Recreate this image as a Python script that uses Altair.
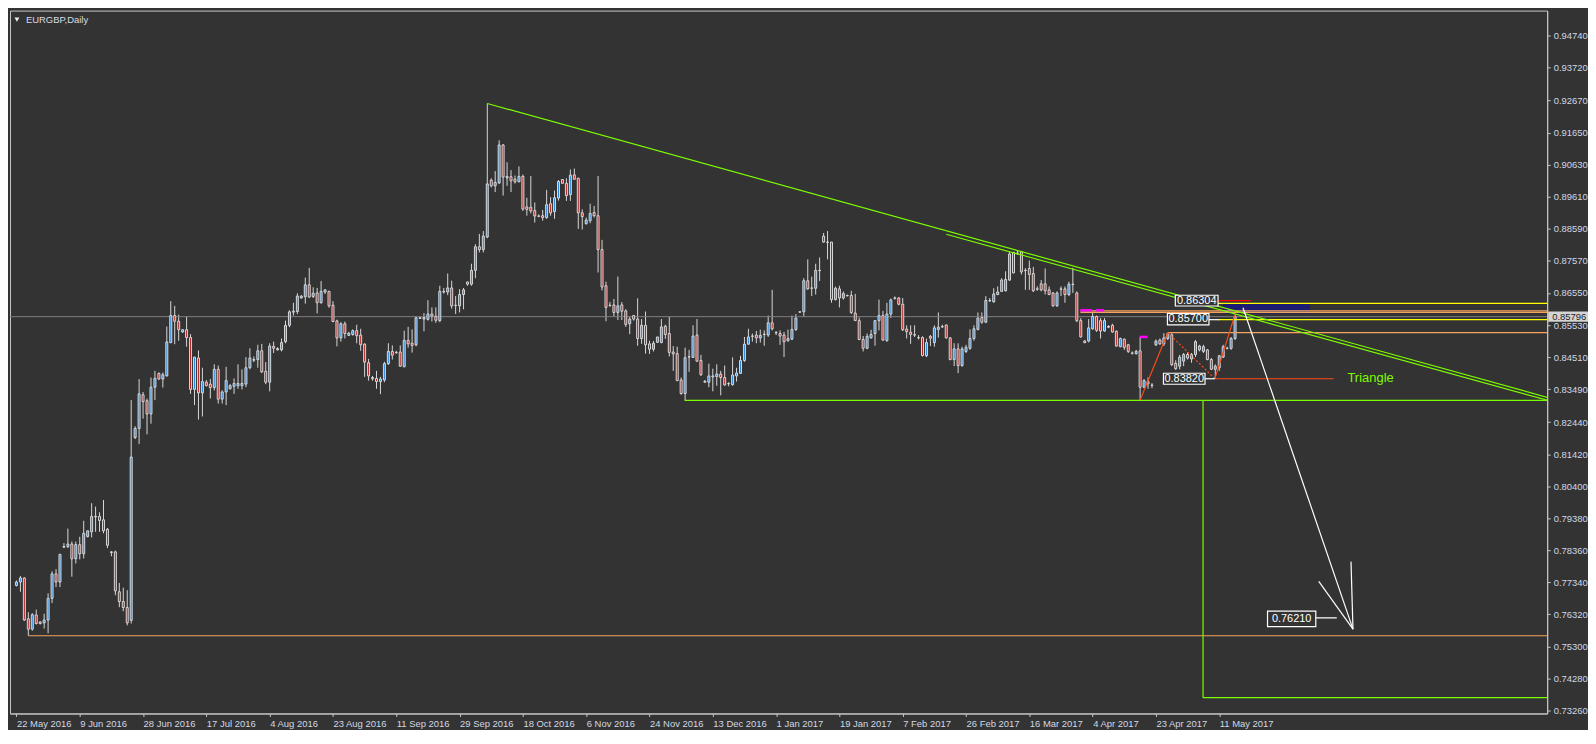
import json
import altair as alt
import pandas as pd

title_text = "EURGBP,Daily"

opens = [0.7724,0.7735,0.7748,0.7618,0.7585,0.7630,0.7608,0.7605,0.7614,0.7683,
0.7761,0.7735,0.7846,0.7848,0.7856,0.7809,0.7854,0.7825,0.7880,0.7895,
0.7942,0.7944,0.7933,0.7903,0.7831,0.7831,0.7704,0.7673,0.7654,0.7613,
0.8195,0.8224,0.8331,0.8312,0.8270,0.8355,0.8399,0.8381,0.8391,0.8497,
0.8583,0.8565,0.8531,0.8538,0.8513,0.8348,0.8448,0.8337,0.8371,0.8365,
0.8354,0.8412,0.8317,0.8340,0.8350,0.8358,0.8360,0.8360,0.8365,0.8417,
0.8441,0.8443,0.8471,0.8406,0.8371,0.8485,0.8474,0.8474,0.8500,0.8552,
0.8594,0.8596,0.8639,0.8643,0.8681,0.8644,0.8655,0.8624,0.8658,0.8660,
0.8616,0.8566,0.8512,0.8557,0.8520,0.8523,0.8535,0.8521,0.8492,0.8433,
0.8386,0.8383,0.8373,0.8378,0.8430,0.8469,0.8466,0.8467,0.8420,0.8504,
0.8495,0.8490,0.8574,0.8572,0.8571,0.8588,0.8581,0.8567,0.8658,0.8658,
0.8671,0.8616,0.8614,0.8650,0.8690,0.8683,0.8727,0.8802,0.8793,0.8833,
0.9014,0.8996,0.9005,0.9126,0.9021,0.9025,0.9017,0.9009,0.9026,0.8929,
0.8928,0.8917,0.8900,0.8901,0.8895,0.8939,0.8914,0.8957,0.9016,0.9004,
0.8968,0.9031,0.9020,0.8910,0.8876,0.8885,0.8911,0.8901,0.8793,0.8678,
0.8616,0.8617,0.8593,0.8617,0.8598,0.8557,0.8583,0.8572,0.8510,0.8552,
0.8493,0.8476,0.8498,0.8497,0.8549,0.8526,0.8467,0.8462,0.8378,0.8335,
0.8452,0.8450,0.8521,0.8440,0.8374,0.8371,0.8388,0.8389,0.8397,0.8386,
0.8366,0.8363,0.8391,0.8399,0.8440,0.8492,0.8517,0.8521,0.8512,0.8523,
0.8521,0.8560,0.8528,0.8526,0.8521,0.8503,0.8508,0.8539,0.8594,0.8595,
0.8694,0.8670,0.8670,0.8726,0.8836,0.8816,0.8817,0.8634,0.8668,0.8639,
0.8646,0.8647,0.8591,0.8567,0.8507,0.8479,0.8512,0.8526,0.8567,0.8583,
0.8503,0.8588,0.8638,0.8639,0.8619,0.8540,0.8530,0.8521,0.8512,0.8513,
0.8455,0.8517,0.8497,0.8539,0.8547,0.8553,0.8512,0.8443,0.8477,0.8424,
0.8469,0.8479,0.8510,0.8539,0.8577,0.8562,0.8630,0.8627,0.8650,0.8660,
0.8662,0.8696,0.8784,0.8781,0.8786,0.8726,0.8733,0.8717,0.8667,0.8684,
0.8684,0.8665,0.8655,0.8614,0.8667,0.8668,0.8650,0.8682,0.8655,0.8567,
0.8502,0.8502,0.8541,0.8580,0.8567,0.8534,0.8546,0.8552,0.8533,0.8484,
0.8508,0.8490,0.8464,0.8462,0.8471,0.8355,0.8373,0.8361,0.8490,0.8505,
0.8493,0.8510,0.8522,0.8431,0.8422,0.8438,0.8459,0.8445,0.8459,0.8474,
0.8469,0.8474,0.8443,0.8412,0.8417,0.8451,0.8478,0.8479,0.8510]

highs = [0.7740,0.7754,0.7750,0.7639,0.7636,0.7647,0.7610,0.7634,0.7699,0.7769,
0.7776,0.7825,0.7859,0.7905,0.7864,0.7864,0.7879,0.7930,0.7898,0.7986,
0.7975,0.7957,0.7996,0.7907,0.7833,0.7835,0.7732,0.7717,0.7709,0.8314,
0.8231,0.8381,0.8340,0.8319,0.8386,0.8407,0.8402,0.8402,0.8548,0.8629,
0.8614,0.8586,0.8538,0.8580,0.8524,0.8451,0.8472,0.8417,0.8378,0.8381,
0.8428,0.8424,0.8345,0.8420,0.8365,0.8383,0.8428,0.8412,0.8451,0.8479,
0.8453,0.8490,0.8493,0.8435,0.8495,0.8500,0.8482,0.8510,0.8567,0.8600,
0.8624,0.8654,0.8648,0.8704,0.8735,0.8673,0.8671,0.8693,0.8665,0.8662,
0.8629,0.8570,0.8562,0.8564,0.8531,0.8539,0.8554,0.8541,0.8495,0.8445,
0.8391,0.8407,0.8388,0.8436,0.8495,0.8488,0.8471,0.8488,0.8535,0.8547,
0.8539,0.8580,0.8580,0.8591,0.8632,0.8609,0.8609,0.8678,0.8671,0.8717,
0.8694,0.8645,0.8667,0.8671,0.8691,0.8748,0.8810,0.8843,0.8852,0.9258,
0.9020,0.9043,0.9141,0.9129,0.9071,0.9046,0.9029,0.9058,0.9032,0.8958,
0.9027,0.8943,0.8905,0.8919,0.8983,0.8960,0.8981,0.9014,0.9017,0.9020,
0.9048,0.9051,0.9022,0.8921,0.8895,0.8939,0.8932,0.9027,0.8824,0.8691,
0.8626,0.8636,0.8707,0.8626,0.8603,0.8580,0.8585,0.8638,0.8572,0.8596,
0.8503,0.8502,0.8515,0.8572,0.8554,0.8580,0.8486,0.8484,0.8386,0.8481,
0.8474,0.8552,0.8572,0.8458,0.8378,0.8430,0.8414,0.8428,0.8407,0.8424,
0.8371,0.8450,0.8417,0.8455,0.8515,0.8541,0.8526,0.8534,0.8538,0.8536,
0.8583,0.8665,0.8534,0.8536,0.8531,0.8538,0.8583,0.8588,0.8597,0.8702,
0.8762,0.8707,0.8748,0.8768,0.8846,0.8852,0.8817,0.8675,0.8678,0.8660,
0.8650,0.8662,0.8652,0.8577,0.8518,0.8526,0.8538,0.8569,0.8634,0.8598,
0.8624,0.8637,0.8644,0.8642,0.8639,0.8552,0.8552,0.8552,0.8521,0.8517,
0.8510,0.8521,0.8552,0.8593,0.8554,0.8554,0.8515,0.8495,0.8495,0.8484,
0.8490,0.8539,0.8552,0.8593,0.8593,0.8645,0.8639,0.8670,0.8676,0.8702,
0.8724,0.8786,0.8786,0.8789,0.8789,0.8734,0.8758,0.8738,0.8676,0.8696,
0.8733,0.8676,0.8658,0.8660,0.8676,0.8676,0.8691,0.8735,0.8660,0.8575,
0.8505,0.8572,0.8593,0.8583,0.8575,0.8575,0.8552,0.8557,0.8536,0.8513,
0.8510,0.8493,0.8469,0.8474,0.8515,0.8381,0.8386,0.8368,0.8507,0.8510,
0.8527,0.8529,0.8527,0.8441,0.8458,0.8464,0.8466,0.8464,0.8505,0.8490,
0.8490,0.8476,0.8448,0.8428,0.8458,0.8490,0.8484,0.8515,0.8587]

lows = [0.7721,0.7704,0.7611,0.7564,0.7580,0.7600,0.7600,0.7587,0.7572,0.7668,
0.7719,0.7719,0.7843,0.7843,0.7752,0.7794,0.7807,0.7810,0.7877,0.7877,
0.7895,0.7895,0.7890,0.7843,0.7817,0.7693,0.7655,0.7642,0.7597,0.7603,
0.8190,0.8174,0.8255,0.8205,0.8239,0.8314,0.8379,0.8354,0.8389,0.8495,
0.8492,0.8503,0.8528,0.8484,0.8334,0.8298,0.8252,0.8262,0.8358,0.8319,
0.8345,0.8303,0.8303,0.8298,0.8348,0.8334,0.8350,0.8348,0.8355,0.8412,
0.8435,0.8417,0.8400,0.8365,0.8342,0.8464,0.8472,0.8469,0.8495,0.8546,
0.8583,0.8588,0.8637,0.8621,0.8639,0.8639,0.8590,0.8621,0.8652,0.8608,
0.8562,0.8485,0.8500,0.8510,0.8518,0.8519,0.8495,0.8471,0.8388,0.8376,
0.8376,0.8350,0.8333,0.8371,0.8426,0.8443,0.8461,0.8420,0.8419,0.8481,
0.8465,0.8485,0.8572,0.8533,0.8567,0.8564,0.8560,0.8562,0.8653,0.8648,
0.8605,0.8588,0.8593,0.8603,0.8678,0.8678,0.8702,0.8784,0.8784,0.8829,
0.8991,0.8976,0.9002,0.8965,0.8996,0.8976,0.9003,0.9007,0.8916,0.8901,
0.8908,0.8879,0.8896,0.8885,0.8891,0.8901,0.8891,0.8949,0.9002,0.8948,
0.8948,0.9015,0.8859,0.8857,0.8872,0.8877,0.8895,0.8720,0.8663,0.8565,
0.8611,0.8581,0.8569,0.8569,0.8547,0.8524,0.8567,0.8487,0.8493,0.8462,
0.8461,0.8469,0.8497,0.8495,0.8509,0.8453,0.8407,0.8376,0.8331,0.8313,
0.8404,0.8448,0.8436,0.8391,0.8369,0.8355,0.8342,0.8360,0.8329,0.8360,
0.8358,0.8360,0.8373,0.8397,0.8436,0.8490,0.8500,0.8495,0.8497,0.8487,
0.8515,0.8536,0.8521,0.8490,0.8451,0.8500,0.8505,0.8534,0.8592,0.8580,
0.8665,0.8645,0.8650,0.8693,0.8815,0.8762,0.8624,0.8631,0.8609,0.8634,
0.8644,0.8588,0.8567,0.8505,0.8469,0.8476,0.8510,0.8487,0.8536,0.8503,
0.8500,0.8575,0.8634,0.8616,0.8534,0.8510,0.8493,0.8515,0.8507,0.8453,
0.8451,0.8486,0.8484,0.8513,0.8544,0.8510,0.8441,0.8422,0.8400,0.8420,
0.8464,0.8474,0.8503,0.8536,0.8557,0.8559,0.8626,0.8624,0.8648,0.8658,
0.8660,0.8693,0.8717,0.8776,0.8714,0.8665,0.8665,0.8658,0.8662,0.8660,
0.8650,0.8648,0.8611,0.8611,0.8645,0.8624,0.8645,0.8655,0.8562,0.8513,
0.8495,0.8498,0.8538,0.8531,0.8510,0.8531,0.8543,0.8528,0.8484,0.8482,
0.8474,0.8464,0.8459,0.8459,0.8314,0.8352,0.8350,0.8352,0.8486,0.8490,
0.8486,0.8505,0.8422,0.8410,0.8412,0.8422,0.8443,0.8433,0.8451,0.8469,
0.8464,0.8441,0.8410,0.8382,0.8407,0.8448,0.8476,0.8474,0.8505]

closes = [0.7735,0.7748,0.7614,0.7585,0.7631,0.7603,0.7603,0.7614,0.7683,0.7761,
0.7735,0.7823,0.7848,0.7856,0.7809,0.7854,0.7825,0.7890,0.7898,0.7944,
0.7944,0.7931,0.7898,0.7852,0.7829,0.7707,0.7673,0.7654,0.7605,0.8133,
0.8224,0.8334,0.8309,0.8270,0.8355,0.8383,0.8381,0.8395,0.8499,0.8583,
0.8565,0.8538,0.8538,0.8513,0.8348,0.8451,0.8337,0.8373,0.8360,0.8354,
0.8412,0.8317,0.8340,0.8376,0.8360,0.8367,0.8367,0.8367,0.8417,0.8448,
0.8443,0.8471,0.8404,0.8371,0.8486,0.8479,0.8478,0.8497,0.8552,0.8595,
0.8597,0.8645,0.8645,0.8681,0.8642,0.8654,0.8624,0.8660,0.8665,0.8614,
0.8564,0.8512,0.8557,0.8526,0.8527,0.8535,0.8519,0.8490,0.8435,0.8391,
0.8382,0.8373,0.8381,0.8430,0.8469,0.8457,0.8465,0.8422,0.8504,0.8493,
0.8488,0.8576,0.8576,0.8577,0.8588,0.8581,0.8568,0.8660,0.8660,0.8671,
0.8614,0.8615,0.8650,0.8665,0.8683,0.8727,0.8802,0.8793,0.8836,0.9002,
0.8996,0.9007,0.9126,0.9024,0.9026,0.9012,0.9009,0.9026,0.8922,0.8921,
0.8916,0.8900,0.8899,0.8895,0.8936,0.8910,0.8958,0.9010,0.9004,0.8965,
0.9030,0.9017,0.8910,0.8898,0.8887,0.8908,0.8901,0.8793,0.8674,0.8609,
0.8615,0.8593,0.8614,0.8597,0.8555,0.8572,0.8572,0.8510,0.8552,0.8490,
0.8476,0.8495,0.8515,0.8547,0.8523,0.8466,0.8461,0.8376,0.8335,0.8449,
0.8451,0.8518,0.8438,0.8395,0.8371,0.8391,0.8391,0.8397,0.8386,0.8362,
0.8367,0.8394,0.8400,0.8440,0.8492,0.8515,0.8518,0.8512,0.8520,0.8524,
0.8560,0.8541,0.8529,0.8518,0.8500,0.8510,0.8539,0.8575,0.8595,0.8694,
0.8668,0.8671,0.8727,0.8727,0.8817,0.8817,0.8634,0.8670,0.8639,0.8653,
0.8647,0.8593,0.8567,0.8507,0.8479,0.8517,0.8523,0.8567,0.8583,0.8505,
0.8588,0.8633,0.8639,0.8619,0.8538,0.8532,0.8523,0.8522,0.8513,0.8456,
0.8497,0.8511,0.8544,0.8546,0.8548,0.8512,0.8443,0.8477,0.8424,0.8477,
0.8482,0.8510,0.8541,0.8575,0.8562,0.8631,0.8631,0.8652,0.8658,0.8696,
0.8698,0.8779,0.8719,0.8782,0.8722,0.8727,0.8714,0.8662,0.8668,0.8665,
0.8662,0.8650,0.8614,0.8655,0.8668,0.8650,0.8683,0.8683,0.8567,0.8515,
0.8497,0.8544,0.8580,0.8536,0.8534,0.8567,0.8549,0.8531,0.8486,0.8510,
0.8482,0.8469,0.8463,0.8469,0.8355,0.8376,0.8366,0.8362,0.8502,0.8493,
0.8512,0.8526,0.8427,0.8414,0.8451,0.8459,0.8448,0.8459,0.8500,0.8486,
0.8484,0.8443,0.8412,0.8422,0.8455,0.8484,0.8479,0.8510,0.8580]

x_tick_bars = [1, 17, 33, 49, 65, 81, 97, 113, 129, 145, 161, 177, 193, 209, 225, 241, 257, 273, 289, 305]
x_tick_labels = ["22 May 2016", "9 Jun 2016", "28 Jun 2016", "17 Jul 2016", "4 Aug 2016", "23 Aug 2016",
                 "11 Sep 2016", "29 Sep 2016", "18 Oct 2016", "6 Nov 2016", "24 Nov 2016", "13 Dec 2016",
                 "1 Jan 2017", "19 Jan 2017", "7 Feb 2017", "26 Feb 2017", "16 Mar 2017", "4 Apr 2017",
                 "23 Apr 2017", "11 May 2017"]
y_ticks = [0.94740, 0.93720, 0.92670, 0.91650, 0.90630, 0.89610, 0.88590, 0.87570, 0.86550, 0.85530,
           0.84510, 0.83490, 0.82440, 0.81420, 0.80400, 0.79380, 0.78360, 0.77340, 0.76320, 0.75300,
           0.74280, 0.73260]
bid_price = 0.85796
bid_label = "0.85796"

# drawn objects (bar index, price); 400 = runs off the right edge
lime_x1 = [120.0, 236.0, 169.9, 300.9, 300.9]
lime_y1 = [0.9258, 0.8842, 0.8313, 0.8313, 0.7367]
lime_x2 = [388.4, 388.4, 400.0, 300.9, 400.0]
lime_y2 = [0.8321, 0.8312, 0.8313, 0.7367, 0.7367]

sandy_x1 = [4.0, 269.9, 269.9, 292.0]
sandy_y1 = [0.7564, 0.8598, 0.8593, 0.8529]
sandy_x2 = [400.0, 400.0, 400.0, 400.0]
sandy_y2 = [0.7564, 0.8598, 0.8593, 0.8529]

yellow_x1 = [304.7, 304.7]
yellow_x2 = [400.0, 400.0]
yellow_y = [0.8622, 0.8570]

red_x1, red_x2, red_y = [304.7], [312.9], [0.86304]

zig_x1 = [285.0, 303.9, 303.9]
zig_y1 = [0.8314, 0.8382, 0.8382]
zig_x2 = [292.0, 308.9, 333.9]
zig_y2 = [0.8529, 0.8583, 0.8382]
dot_x1, dot_y1, dot_x2, dot_y2 = [292.0], [0.8529], [303.9], [0.8382]

mag_x1 = [269.9, 273.9, 284.9]
mag_x2 = [272.9, 275.9, 286.9]
mag_y = [0.8600, 0.8600, 0.8515]

white_x1 = [311.0, 338.8, 338.8, 302.4, 301.4, 329.4]
white_y1 = [0.8608, 0.7585, 0.7585, 0.8570, 0.8382, 0.7621]
white_x2 = [338.8, 330.15, 338.3, 304.9, 303.9, 334.7]
white_y2 = [0.7585, 0.7737, 0.7800, 0.8570, 0.8382, 0.7621]

zone_x1, zone_x2, zone_y1, zone_y2 = [305.9], [327.9], [0.86198], [0.85897]

box_text = ["0.86304", "0.85700", "0.83820", "0.76210"]
box_x1 = [293.9, 291.9, 290.9, 317.2]
box_x2 = [304.7, 302.4, 301.4, 329.4]
box_y1 = [0.86477, 0.85897, 0.83995, 0.76425]
box_y2 = [0.86136, 0.85537, 0.83645, 0.75928]

tri_text, tri_x, tri_y = ["Triangle"], [337.4], [0.8383]

# ---------------------------------------------------------------
W, H = 1544, 706
BG = "#333333"
FRAME = "#C8C8C8"
LBL = "#D0D8E6"
FONT = "Liberation Sans"
CANDLE_EDGE = "#D8D8D8"
UP = "#2A86DA"
DOWN = "#B22424"

xs = alt.Scale(domain=[0.625, 0.625 + W / 4.0], nice=False, zero=False)
ys = alt.Scale(domain=[0.73167, 0.95537], nice=False, zero=False)

label_expr = json.dumps(x_tick_labels) + "[indexof(" + json.dumps(x_tick_bars) + ", datum.value)]"
x_axis = alt.Axis(values=x_tick_bars, labelExpr=label_expr, title=None, grid=False, tickSize=3,
                  tickColor=FRAME, domainColor=FRAME, labelColor=LBL, labelFont=FONT, labelFontSize=9.5,
                  labelAlign="left", labelPadding=2, labelFlush=False, labelOverlap=False, labelBound=False)
y_axis = alt.Axis(orient="right", values=y_ticks, format=".5f", title=None, grid=False, tickSize=3,
                  tickColor=FRAME, domainColor=FRAME, labelColor=LBL, labelFont=FONT, labelFontSize=9.5,
                  labelPadding=3, labelOverlap=False, labelFlush=False)


def X(f):
    return alt.X(f, type="quantitative", scale=xs, axis=x_axis)


def Y(f):
    return alt.Y(f, type="quantitative", scale=ys, axis=y_axis)


candles = pd.DataFrame({"bar": list(range(1, len(closes) + 1)), "open": opens, "high": highs,
                        "low": lows, "close": closes})
candles["dir"] = ["up" if c > o else ("down" if c < o else "flat") for o, c in zip(opens, closes)]


def segs(x1, y1, x2, y2, color, width=1.0, dash=None):
    df = pd.DataFrame({"x1": x1, "y1": y1, "x2": x2, "y2": y2})
    kw = dict(color=color, strokeWidth=width, clip=True)
    if dash is not None:
        kw["strokeDash"] = dash
    return alt.Chart(df).mark_rule(**kw).encode(x=X("x1"), x2="x2", y=Y("y1"), y2="y2")


zone = alt.Chart(pd.DataFrame({"x1": zone_x1, "x2": zone_x2, "y1": zone_y1, "y2": zone_y2})).mark_rect(
    color="#1C1C72").encode(x=X("x1"), x2="x2", y=Y("y1"), y2="y2")

bid_df = pd.DataFrame({"p": [bid_price], "label": [bid_label],
                       "top": [bid_price + 0.00165], "bot": [bid_price - 0.00165]})
bid_line = alt.Chart(bid_df).mark_rule(color="#7E7E7E", strokeWidth=1).encode(y=Y("p"))

wicks = alt.Chart(candles).mark_rule(color=CANDLE_EDGE, strokeWidth=1).encode(
    x=X("bar"), y=Y("low"), y2="high")

bodies = alt.Chart(candles).mark_bar(size=2, stroke=CANDLE_EDGE, strokeWidth=1).encode(
    x=X("bar"), y=Y("open"), y2="close",
    color=alt.Color("dir:N", scale=alt.Scale(domain=["up", "down", "flat"], range=[UP, DOWN, CANDLE_EDGE]),
                    legend=None))

lime = segs(lime_x1, lime_y1, lime_x2, lime_y2, "#7CFC00", 1.2)
sandy = segs(sandy_x1, sandy_y1, sandy_x2, sandy_y2, "#F4A460", 1.2)
yellow = segs(yellow_x1, yellow_y, yellow_x2, yellow_y, "#FFFF00", 1.2)
red = segs(red_x1, red_y, red_x2, red_y, "#FF0000", 1.2)
zig = segs(zig_x1, zig_y1, zig_x2, zig_y2, "#FF4A1A", 1.2)
zig_dot = segs(dot_x1, dot_y1, dot_x2, dot_y2, "#FF4A1A", 1.2, [2, 2])
mag = segs(mag_x1, mag_y, mag_x2, mag_y, "#FF00FF", 2.5)
white = segs(white_x1, white_y1, white_x2, white_y2, "#FFFFFF", 1.2)

boxes_df = pd.DataFrame({"t": box_text, "x1": box_x1, "x2": box_x2, "y1": box_y1, "y2": box_y2})
boxes_df["xc"] = (boxes_df["x1"] + boxes_df["x2"]) / 2
boxes_df["yc"] = (boxes_df["y1"] + boxes_df["y2"]) / 2
boxes = alt.Chart(boxes_df).mark_rect(fill=BG, stroke="#FFFFFF", strokeWidth=1.2).encode(
    x=X("x1"), x2="x2", y=Y("y1"), y2="y2")
box_txt = alt.Chart(boxes_df).mark_text(color="#FFFFFF", font=FONT, fontSize=11, align="center",
                                         baseline="middle").encode(x=X("xc"), y=Y("yc"), text="t:N")

tri_lbl = alt.Chart(pd.DataFrame({"t": tri_text, "x": tri_x, "y": tri_y})).mark_text(
    color="#7CFC00", font=FONT, fontSize=13, align="left", baseline="middle").encode(
    x=X("x"), y=Y("y"), text="t:N")

bid_box = alt.Chart(bid_df).mark_rect(color="#D4D4D4").encode(
    x=alt.value(W + 1), x2=alt.value(W + 41), y=Y("top"), y2="bot")
bid_txt = alt.Chart(bid_df).mark_text(color="#1E1E1E", font=FONT, fontSize=9.5, align="left",
                                      baseline="middle").encode(x=alt.value(W + 5), y=Y("p"), text="label:N")

title_df = pd.DataFrame({"t": [title_text]})
title_mark = alt.Chart(title_df).mark_text(color="#D8DCE6", font=FONT, fontSize=9.5, align="left",
                                           baseline="middle").encode(
    x=alt.value(16), y=alt.value(9), text="t:N")
title_tri = alt.Chart(title_df).mark_point(shape="triangle-down", filled=True, size=24, color="#F0F0F0",
                                           opacity=1).encode(x=alt.value(7), y=alt.value(9))

chart = alt.layer(
    wicks, zone, bid_line, bodies, sandy, yellow, red, lime, zig, zig_dot, mag, white,
    boxes, box_txt, tri_lbl, bid_box, bid_txt, title_tri, title_mark
).properties(
    width=W, height=H, background=BG,
    padding={"left": 1, "top": 1, "right": 0, "bottom": 0}
).configure_view(stroke=FRAME, strokeWidth=1)

chart.save("out.html", embed_options={"renderer": "svg", "actions": False})
